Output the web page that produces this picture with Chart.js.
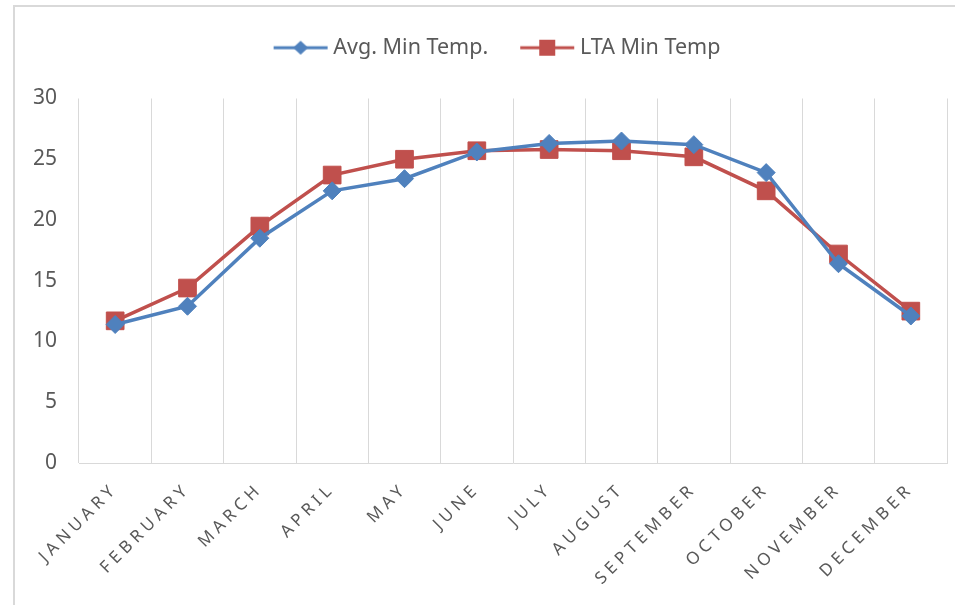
<!DOCTYPE html>
<html>
<head>
<meta charset="utf-8">
<script src="https://cdn.jsdelivr.net/npm/chart.js@4"></script>
<style>
    html, body { margin: 0; padding: 0; background: #fff; }
    #frame {
        position: absolute; left: 13px; top: 5px; width: 960px; height: 620px;
        border-left: 2px solid #d9d9d9; border-top: 2px solid #d9d9d9;
    }
    #wrap { position: absolute; left: 0; top: 0; width: 955px; height: 605px; }
</style>
</head>
<body>
<div id="frame"></div>
<div id="wrap"><canvas id="tempChart" width="955" height="605"></canvas></div>
<script>
// dữ liệu
const months = ['JANUARY', 'FEBRUARY', 'MARCH', 'APRIL', 'MAY', 'JUNE', 'JULY',
    'AUGUST', 'SEPTEMBER', 'OCTOBER', 'NOVEMBER', 'DECEMBER'];
const avgMinTemp = [11.4, 12.9, 18.5, 22.4, 23.4, 25.6, 26.3, 26.5, 26.2, 23.9, 16.4, 12.1];
const ltaMinTemp = [11.7, 14.4, 19.5, 23.7, 25.0, 25.7, 25.8, 25.7, 25.2, 22.4, 17.2, 12.5];
const yTicks = [0, 5, 10, 15, 20, 25, 30];

const BLUE = '#4f81bd';
const RED = '#c0504d';
const FONT = "'Noto Sans', sans-serif";

// icon chú thích: đường kẻ + marker như Excel
function legendIcon(color, shape) {
    const c = document.createElement('canvas');
    c.width = 56; c.height = 20;
    const g = c.getContext('2d');
    g.strokeStyle = color; g.lineWidth = 3;
    g.beginPath(); g.moveTo(1, 10); g.lineTo(55, 10); g.stroke();
    g.fillStyle = color;
    g.beginPath();
    if (shape === 'diamond') {
        g.moveTo(28, 3); g.lineTo(35.5, 10); g.lineTo(28, 17); g.lineTo(20.5, 10);
    } else {
        g.rect(20, 2, 16, 16);
    }
    g.closePath(); g.fill();
    return c;
}

// chú thích: thêm khoảng trống phía dưới và dịch sang phải một chút
const legendLayout = {
    id: 'legendLayout',
    beforeInit(chart) {
        const legend = chart.legend;
        const fit = legend.fit.bind(legend);
        legend.fit = function () { fit(); this.height += 30; };
    },
    afterLayout(chart) {
        chart.legend.left += 26;
        chart.legend.right += 26;
    }
};

const ctx = document.getElementById('tempChart').getContext('2d');
const myChart = new Chart(ctx, {
    type: 'line',
    data: {
        labels: months,
        datasets: [
            {
                label: 'Avg. Min Temp.',
                data: avgMinTemp,
                borderColor: BLUE, backgroundColor: BLUE,
                borderWidth: 3.5,
                pointStyle: 'rectRot', pointRadius: 9, pointBorderWidth: 1,
                pointBackgroundColor: BLUE, pointBorderColor: BLUE,
                tension: 0
            },
            {
                label: 'LTA Min Temp',
                data: ltaMinTemp,
                borderColor: RED, backgroundColor: RED,
                borderWidth: 3.5,
                pointStyle: 'rect', pointRadius: 12.5, pointBorderWidth: 1,
                pointBackgroundColor: RED, pointBorderColor: RED,
                tension: 0
            }
        ]
    },
    options: {
        responsive: false,
        animation: false,
        layout: { autoPadding: false, padding: { left: 0, right: 8, top: 0, bottom: 0 } },
        plugins: {
            tooltip: { enabled: false },
            legend: {
                position: 'top',
                labels: {
                    color: '#595959',
                    font: { family: FONT, size: 21.5 },
                    usePointStyle: true,
                    pointStyleWidth: 44,
                    boxHeight: 20,
                    padding: 37,
                    generateLabels: (chart) => chart.data.datasets.map((d, i) => ({
                        text: d.label,
                        pointStyle: legendIcon(d.borderColor, i === 0 ? 'diamond' : 'square'),
                        fillStyle: d.borderColor,
                        strokeStyle: d.borderColor,
                        lineWidth: 0,
                        fontColor: '#595959',
                        datasetIndex: i
                    }))
                }
            }
        },
        scales: {
            x: {
                offset: true,
                afterFit: (scale) => {
                    scale.height = 142;
                    scale.paddingLeft = 0;
                    scale.paddingRight = 0;
                },
                grid: { offset: true, color: '#d9d9d9', lineWidth: 1, drawTicks: false },
                border: { color: '#d9d9d9' },
                ticks: {
                    color: '#595959',
                    font: { family: FONT, size: 17 },
                    minRotation: 45, maxRotation: 45,
                    autoSkip: false,
                    padding: 16
                }
            },
            y: {
                min: 0, max: 30,
                afterFit: (scale) => { scale.width = 79; },
                afterBuildTicks: (scale) => { scale.ticks = yTicks.map(v => ({ value: v })); },
                grid: { display: false, drawTicks: false },
                border: { display: false },
                ticks: {
                    color: '#595959',
                    font: { family: FONT, size: 21 },
                    padding: 22
                }
            }
        }
    },
    plugins: [legendLayout]
});

// nhãn tháng giãn chữ như Excel
const xScale = myChart.scales.x;
const drawXLabels = xScale.drawLabels.bind(xScale);
xScale.drawLabels = function (area) {
    this.ctx.save();
    this.ctx.letterSpacing = '4.5px';
    drawXLabels(area);
    this.ctx.restore();
};
myChart.draw();
</script>
</body>
</html>
